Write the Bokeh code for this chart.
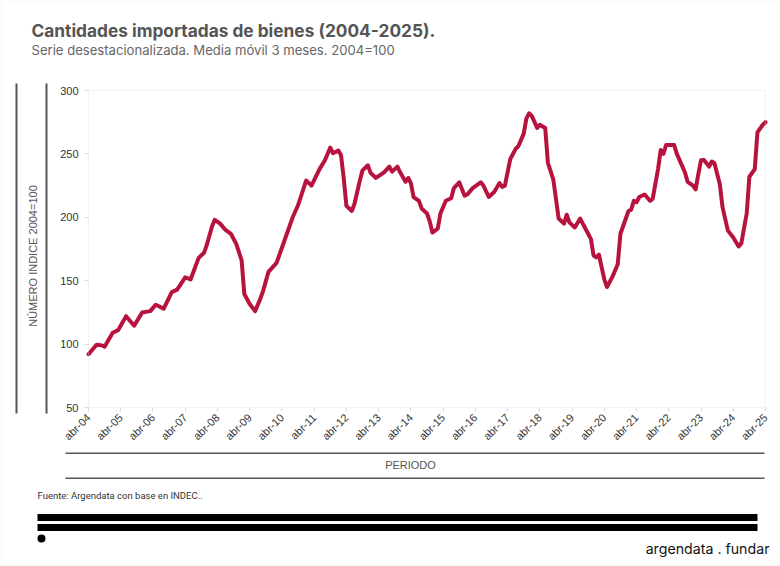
import math
from bokeh.plotting import figure
from bokeh.models import Label, BoxAnnotation, FixedTicker, Range1d
from bokeh.embed import file_html
from bokeh.resources import INLINE

# ---------------- data ----------------
titulo = "Cantidades importadas de bienes (2004-2025)."
subtitulo = "Serie desestacionalizada. Media móvil 3 meses. 2004=100"
eje_y = "NÚMERO INDICE 2004=100"
eje_x = "PERIODO"
fuente = "Fuente: Argendata con base en INDEC.."
marca = "argendata . fundar"

fechas = [
    "2004-04", "2004-07", "2004-09", "2004-10", "2005-01", "2005-03", "2005-06", "2005-09",
    "2005-12", "2006-03", "2006-05", "2006-06", "2006-08", "2006-11", "2007-01", "2007-04",
    "2007-06", "2007-09", "2007-11", "2007-12", "2008-02", "2008-03", "2008-05", "2008-07",
    "2008-09", "2008-11", "2009-01", "2009-02", "2009-04", "2009-06", "2009-08", "2009-09",
    "2009-11", "2010-02", "2010-04", "2010-06", "2010-08", "2010-10", "2011-01", "2011-03",
    "2011-06", "2011-08", "2011-10", "2011-11", "2012-01", "2012-02", "2012-03", "2012-04",
    "2012-06", "2012-07", "2012-09", "2012-10", "2012-12", "2013-01", "2013-03", "2013-06",
    "2013-08", "2013-09", "2013-11", "2013-12", "2014-02", "2014-03", "2014-04", "2014-05",
    "2014-07", "2014-08", "2014-10", "2014-11", "2014-12", "2015-02", "2015-03", "2015-05",
    "2015-07", "2015-08", "2015-10", "2015-12", "2016-01", "2016-03", "2016-06", "2016-07",
    "2016-09", "2016-11", "2017-01", "2017-02", "2017-03", "2017-05", "2017-07", "2017-08",
    "2017-10", "2017-11", "2017-12", "2018-01", "2018-03", "2018-04", "2018-06", "2018-07",
    "2018-09", "2018-11", "2019-01", "2019-02", "2019-03", "2019-05", "2019-07", "2019-09",
    "2019-11", "2019-12", "2020-01", "2020-02", "2020-04", "2020-05", "2020-07", "2020-09",
    "2020-10", "2021-01", "2021-02", "2021-03", "2021-04", "2021-05", "2021-07", "2021-09",
    "2021-10", "2021-12", "2022-01", "2022-02", "2022-03", "2022-06", "2022-07", "2022-10",
    "2022-11", "2023-01", "2023-02", "2023-03", "2023-04", "2023-05", "2023-07", "2023-08",
    "2023-09", "2023-11", "2023-12", "2024-02", "2024-04", "2024-06", "2024-07", "2024-09",
    "2024-10", "2024-12", "2025-01", "2025-03", "2025-04",
]
valores = [
    92, 99.5, 99, 98, 109, 111, 122, 114.5,
    125, 126, 131, 130, 128, 141, 143, 152.6,
    151, 168, 172, 178, 193, 198, 195, 190,
    187, 179, 166, 139.5, 131.6, 126, 136, 142,
    157, 164, 176, 188, 200, 209.5, 229, 225,
    238, 245, 255, 250.5, 252.6, 249, 231, 209,
    205, 210.5, 229, 237, 241, 235, 231, 235.5,
    240, 236, 240, 235.5, 228, 231, 227, 216,
    213, 207, 203, 197, 188, 191, 203, 213,
    215, 223, 227.6, 217, 218, 223, 227.6, 225,
    216, 220, 227, 224, 225, 246, 254, 256,
    266, 278, 282, 280, 270.5, 273, 270.5, 243,
    230, 199, 195, 202, 196, 192, 199, 191,
    183, 170, 168.4, 170.5, 151, 145, 153, 163,
    187, 205, 206, 213, 211.8, 216, 218, 213,
    214.5, 238, 253, 250, 257, 257, 250, 235.5,
    228, 225, 222, 234, 245, 245.3, 240, 244,
    242.6, 226, 208, 189.5, 184, 177, 179.4, 203,
    232, 238, 267, 273, 275,
]
anios_ticks = [2004, 2005, 2006, 2007, 2008, 2009, 2010, 2011, 2012, 2013, 2014,
               2015, 2016, 2017, 2018, 2019, 2020, 2021, 2022, 2023, 2024, 2025]
etiquetas_x = ["abr-04", "abr-05", "abr-06", "abr-07", "abr-08", "abr-09", "abr-10",
               "abr-11", "abr-12", "abr-13", "abr-14", "abr-15", "abr-16", "abr-17",
               "abr-18", "abr-19", "abr-20", "abr-21", "abr-22", "abr-23", "abr-24", "abr-25"]
ticks_y = [50, 100, 150, 200, 250, 300]
x_min, x_max = 0, 252
y_min, y_max = 50, 300


def mes_idx(s):
    y, m = s.split("-")
    return (int(y) - 2004) * 12 + (int(m) - 4)


xs = [mes_idx(f) for f in fechas]
ticks_x = [(a - 2004) * 12 for a in anios_ticks]

# ---------------- layout (pixel positions of the plot area on the canvas) ----------------
W, H = 780, 566
FL, FT, FR, FB = 88, 90, 765, 407

kx = (x_max - x_min) / (FR - FL)
ky = (y_max - y_min) / (FB - FT)
x_range = Range1d(x_min - FL * kx, x_max + (W - FR) * kx)
y_range = Range1d(y_min - (H - FB) * ky, y_max + FT * ky)

p = figure(width=W, height=H, output_backend="svg", toolbar_location=None,
           x_range=x_range, y_range=y_range, min_border=0)
p.title.visible = False
p.background_fill_color = "white"
p.border_fill_color = "white"
p.outline_line_color = None
p.xgrid.visible = False
p.ygrid.visible = False

for ax in (p.xaxis[0], p.yaxis[0]):
    ax.axis_line_color = None
    ax.major_tick_line_color = "#d9d9d9"
    ax.minor_tick_line_color = None
    ax.major_tick_in = 0
    ax.major_tick_out = 4
    ax.major_label_text_font = "Liberation Sans"
    ax.major_label_text_font_size = "11px"
    ax.major_label_text_color = "#333333"

p.yaxis.fixed_location = x_min
p.xaxis.fixed_location = y_min
p.yaxis.ticker = FixedTicker(ticks=ticks_y)
p.yaxis.major_label_standoff = 6
p.xaxis.ticker = FixedTicker(ticks=ticks_x)
p.xaxis.major_label_overrides = {t: l for t, l in zip(ticks_x, etiquetas_x)}
p.xaxis.major_label_orientation = math.pi / 4
p.xaxis.major_label_standoff = 4

# plot-area frame (data units)
p.add_layout(BoxAnnotation(left=x_min, right=x_max, bottom=y_min, top=y_max,
                           fill_alpha=0, line_color="#d6d6d6", line_width=1))

p.line(xs, valores, line_color="#b8133f", line_width=4,
       line_join="round", line_cap="round")


def sy(cy):
    return H - cy


def box(x0, y0, x1, y1, color, **kw):
    p.add_layout(BoxAnnotation(left=x0, right=x1, top=sy(y0), bottom=sy(y1),
                               left_units="screen", right_units="screen",
                               top_units="screen", bottom_units="screen",
                               fill_color=color, fill_alpha=1, line_color=None, **kw))


def label(cx, cy, text, **kw):
    p.add_layout(Label(x=cx, y=sy(cy), x_units="screen", y_units="screen",
                       text=text, **kw))


# outer border
p.add_layout(BoxAnnotation(left=0.5, right=W - 0.5, top=sy(0.5), bottom=sy(H - 0.5),
                           left_units="screen", right_units="screen",
                           top_units="screen", bottom_units="screen",
                           fill_alpha=0, line_color="#dddddd", line_width=1))

label(31, 30, titulo, text_font="Inter", text_font_style="bold",
      text_font_size="17.3px", text_color="#555555", text_baseline="middle")
label(31, 49.5, subtitulo, text_font="Inter", text_font_size="13.1px",
      text_color="#666666", text_baseline="middle")

# y axis title between two rules
box(15, 83, 17, 413, "#555555")
box(45, 83, 47, 413, "#555555")
label(32, 255.5, eje_y, angle=math.pi / 2, text_align="center", text_baseline="middle",
      text_font="Liberation Sans", text_font_size="11px", text_color="#555555")

# x axis title between two rules
box(65, 452, 764, 453.5, "#555555")
box(65, 477, 764, 478.5, "#555555")
label(410, 464, eje_x, text_align="center", text_baseline="middle",
      text_font="Liberation Sans", text_font_size="11px", text_color="#555555")

# source
label(37, 494.5, fuente, text_font="Roboto", text_font_size="9.5px",
      text_color="#333333", text_baseline="middle")

# footer bars and logo
box(37, 513.5, 757, 520.5, "#000000")
box(37, 523.5, 757, 530.5, "#000000")
box(37, 534, 45, 542, "#000000", border_radius=4)
label(769, 547.5, marca, text_align="right", text_font="Inter", text_font_size="14.2px",
      text_color="#111111", text_baseline="middle")

open("out.html", "w").write(file_html(p, INLINE))
